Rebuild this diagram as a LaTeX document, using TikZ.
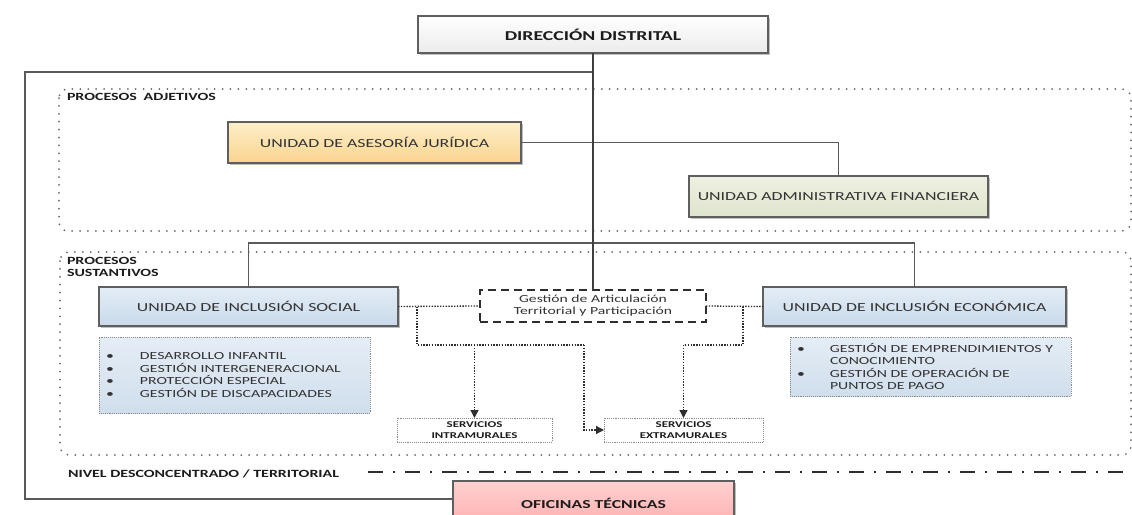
\documentclass[tikz,border=0pt]{standalone}
\usepackage{fontspec}
\setmainfont[FakeStretch=1.45]{Carlito}
\usetikzlibrary{arrows.meta,shadows}

\definecolor{boxline}{HTML}{5F5F5F}
\definecolor{unittext}{HTML}{333333}
\definecolor{labeltext}{HTML}{1C1C1C}
\definecolor{dotgray}{HTML}{8A8A8A}
\definecolor{zonegray}{HTML}{6A6A6A}
\definecolor{linegray}{HTML}{5A5A5A}
\definecolor{linkgray}{HTML}{2E2E2E}
\definecolor{trunkgray}{HTML}{404040}
\definecolor{dirbot}{HTML}{EBEBEB}
\definecolor{asetop}{HTML}{FDEEC8}
\definecolor{asebot}{HTML}{FAD48F}
\definecolor{admtop}{HTML}{EEF0E2}
\definecolor{admbot}{HTML}{DFE4CC}
\definecolor{unittop}{HTML}{E4EDF6}
\definecolor{unitbot}{HTML}{C8D9EA}
\definecolor{listtop}{HTML}{E5EDF6}
\definecolor{listbot}{HTML}{D0DEEC}
\definecolor{ofitop}{HTML}{FFD0D0}
\definecolor{ofibot}{HTML}{FFB0B0}

\begin{document}
\begin{tikzpicture}[
		x=1pt, y=-1pt,
		every node/.style={inner sep=0pt, outer sep=0pt},
		headbox/.style={rectangle, draw=boxline, line width=1.1pt, align=center,
			drop shadow={shadow xshift=1.5pt, shadow yshift=-1.5pt, fill=black, opacity=0.25}},
		unitbox/.style={headbox, text=unittext, font=\fontsize{12.3}{14}\selectfont},
		listbox/.style={rectangle, draw=dotgray, densely dotted, line width=0.9pt, align=left,
			top color=listtop, bottom color=listbot, text=unittext,
			inner xsep=7pt, font=\fontsize{10.9}{12.6}\selectfont},
		servbox/.style={rectangle, draw=dotgray, densely dotted, line width=0.9pt, fill=white,
			text=labeltext, align=center, font=\bfseries\fontsize{8.9}{11}\selectfont},
		zone/.style={draw=zonegray, line width=2pt, line cap=round,
			dash pattern=on 0pt off 7.9pt, rounded corners=9pt},
		zonelabel/.style={text=labeltext, align=left, font=\bfseries\fontsize{11}{12}\selectfont},
		tree/.style={draw=linegray, line width=1.6pt},
		link/.style={draw=linkgray, line width=1.3pt, dash pattern=on 1.4pt off 1.4pt},
		linkarrow/.style={link, -{Triangle[length=8pt, width=8pt]}}
	]
  \fill[white] (0,0) rectangle (1132,514);
  \useasboundingbox (0,0) rectangle (1132,514);

  % zones
  \draw[zone] (59,89) rectangle (1131,231);
  \draw[zone] (60,252) rectangle (1131,455);
  \node (adj_label) [zonelabel, anchor=north west] at (67,93) {PROCESOS\hspace{3pt} ADJETIVOS};
  \node (sus_label) [zonelabel, anchor=north west] at (67,257) {PROCESOS\\SUSTANTIVOS};
  \node (niv_label) [zonelabel, anchor=west] at (68,474) {NIVEL DESCONCENTRADO / TERRITORIAL};
  \coordinate (niv_start) at (368,472);
  \coordinate (niv_end) at (1132,472);
  \draw[linkgray, line width=1.3pt, dash pattern=on 15pt off 10pt on 2pt off 10pt] (niv_start) -- (niv_end);

  % boxes
  \node (dir) [headbox, top color=white, bottom color=dirbot, text=labeltext,
    minimum width=350pt, minimum height=37pt, font=\bfseries\fontsize{13.6}{16}\selectfont]
    at (593,34.5) {DIRECCIÓN DISTRITAL};
  \node (ase) [unitbox, top color=asetop, bottom color=asebot,
    minimum width=293pt, minimum height=41pt] at (374.5,142.5) {UNIDAD DE ASESORÍA JURÍDICA};
  \node (adm) [unitbox, top color=admtop, bottom color=admbot,
    minimum width=299pt, minimum height=41pt] at (838.5,196.5) {UNIDAD ADMINISTRATIVA FINANCIERA};
  \node (soc) [unitbox, top color=unittop, bottom color=unitbot,
    minimum width=299pt, minimum height=39pt] at (248.5,306.5) {UNIDAD DE INCLUSIÓN SOCIAL};
  \node (eco) [unitbox, top color=unittop, bottom color=unitbot,
    minimum width=303pt, minimum height=39pt] at (914.5,306.5) {UNIDAD DE INCLUSIÓN ECONÓMICA};
  \node (ges) [rectangle, draw=linkgray, line width=1.4pt, dash pattern=on 8pt off 5pt, fill=white,
    minimum width=226pt, minimum height=32pt, align=center, text=unittext,
    font=\fontsize{10.8}{11.8}\selectfont] at (593,306) {Gestión de Articulación\\Territorial y Participación};
  \node (soc_list) [listbox, text width=257pt, minimum height=76pt] at (234.5,375)
    {\makebox[34pt][l]{\textbullet}DESARROLLO INFANTIL\\
     \makebox[34pt][l]{\textbullet}GESTIÓN INTERGENERACIONAL\\
     \makebox[34pt][l]{\textbullet}PROTECCIÓN ESPECIAL\\
     \makebox[34pt][l]{\textbullet}GESTIÓN DE DISCAPACIDADES};
  \node (eco_list) [listbox, text width=267pt, minimum height=59pt] at (930.5,366.5)
    {\makebox[33pt][l]{\textbullet}GESTIÓN DE EMPRENDIMIENTOS Y\\
     \hspace*{33pt}CONOCIMIENTO\\
     \makebox[33pt][l]{\textbullet}GESTIÓN DE OPERACIÓN DE\\
     \hspace*{33pt}PUNTOS DE PAGO};
  \node (intra) [servbox, minimum width=155pt, minimum height=24pt] at (474.5,430) {SERVICIOS\\INTRAMURALES};
  \node (extra) [servbox, minimum width=159pt, minimum height=24pt] at (683.5,430) {SERVICIOS\\EXTRAMURALES};
  \node (ofi) [headbox, top color=ofitop, bottom color=ofibot, text=labeltext,
    minimum width=281pt, minimum height=44pt, font=\bfseries\fontsize{12.2}{14}\selectfont]
    at (593.5,503) {OFICINAS TÉCNICAS};

  % solid tree
  \coordinate (fr_tl) at (25,72);
  \coordinate (fr_bl) at (25,499);
  \coordinate (bar) at (593,243);
  \draw[tree] (dir.south |- fr_tl) -- (fr_tl) -- (fr_bl) -- (fr_bl -| ofi.west);
  \draw[tree] (ase.east) -| (adm.north);
  \draw[tree] (soc.north) |- (bar) -| (eco.north);
  \draw[draw=trunkgray, line width=2pt] (dir.south) -- (ges.north);

  % dotted links
  \coordinate (l_fork) at (417,306.5);
  \coordinate (l_bend) at (417,345);
  \coordinate (l_mid) at (474.5,345);
  \coordinate (l_end) at (584,345);
  \coordinate (r_fork) at (743,306.5);
  \coordinate (r_bend) at (743,345);
  \coordinate (r_end) at (683.5,345);
  \draw[link] (soc.east) -- (ges.west);
  \draw[link] (ges.east) -- (eco.west);
  \draw[link] (l_fork) -- (l_bend) -- (l_end);
  \draw[linkarrow] (l_mid) -- (intra.north);
  \draw[linkarrow] (l_end) |- (extra.west);
  \draw[link] (r_fork) -- (r_bend) -- (r_end);
  \draw[linkarrow] (r_end) -- (extra.north);
\end{tikzpicture}
\end{document}
